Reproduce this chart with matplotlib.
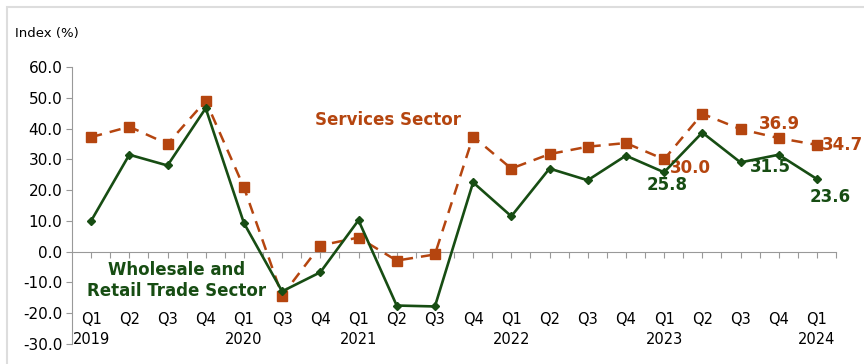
import matplotlib
matplotlib.use("Agg")
import matplotlib.pyplot as plt
from matplotlib.patches import Rectangle
import matplotlib.transforms as mtransforms

plt.rcParams['font.family'] = ['DejaVu Sans']

quarters = ["Q1", "Q2", "Q3", "Q4", "Q1", "Q3", "Q4", "Q1", "Q2", "Q3",
            "Q4", "Q1", "Q2", "Q3", "Q4", "Q1", "Q2", "Q3", "Q4", "Q1"]
years = {0: "2019", 4: "2020", 7: "2021", 11: "2022", 15: "2023", 19: "2024"}

wholesale = [10.0, 31.5, 28.0, 46.6, 9.3, -12.9, -6.7, 10.2, -17.5, -17.8,
             22.5, 11.5, 27.0, 23.2, 31.2, 25.8, 38.7, 29.0, 31.5, 23.6]
services = [37.2, 40.6, 35.0, 49.0, 20.9, -14.3, 2.0, 4.6, -2.9, -0.9,
            37.4, 27.0, 31.7, 34.1, 35.3, 30.0, 44.8, 39.8, 36.9, 34.7]

ORANGE = "#B5450F"
GREEN = "#174D13"

fig = plt.figure(figsize=(8.64, 3.64), dpi=100)
fig.patches.append(Rectangle((7 / 864, -0.1), 1.2, 1 - 7 / 364 + 0.1,
                             transform=fig.transFigure, fill=False,
                             edgecolor="#DDDDDD", linewidth=1.5))
ax = fig.add_axes([72 / 864, 1 - 344 / 364, (836 - 72) / 864, (344 - 67) / 364])

x = list(range(len(quarters)))
ax.plot(x, services, color=ORANGE, linestyle=(0, (4.5, 3.2)), linewidth=1.8,
        marker="s", markersize=7, markerfacecolor=ORANGE, markeredgecolor=ORANGE, zorder=3)
ax.plot(x, wholesale, color=GREEN, linewidth=1.9, marker="D", markersize=4.5,
        markerfacecolor=GREEN, markeredgecolor=GREEN, zorder=4)

ax.set_xlim(-0.5, len(quarters) - 0.5)
ax.set_ylim(-30, 60)
ax.set_yticks(range(-30, 61, 10))
ax.set_yticklabels([f"{v:.1f}" for v in range(-30, 61, 10)], fontsize=11)
ax.tick_params(axis="y", length=4, color="#999999", width=0.8, pad=3)

for s in ["top", "right"]:
    ax.spines[s].set_visible(False)
ax.spines["left"].set_color("#999999")
ax.spines["bottom"].set_position(("data", 0))
ax.spines["bottom"].set_color("#999999")
ax.set_xticks([i * 0.5 - 0.5 for i in range(2 * len(quarters) + 1)][1:])
ax.set_xticklabels([])
ax.tick_params(axis="x", length=4, color="#999999", width=0.8, direction="out")

trans = mtransforms.blended_transform_factory(ax.transData, ax.transAxes)
for i, q in enumerate(quarters):
    ax.text(i, 0.09, q, transform=trans, ha="center", va="center", fontsize=10.5)
for i, yr in years.items():
    ax.text(i, 0.015, yr, transform=trans, ha="center", va="center", fontsize=10.5)

fig.text(15 / 864, 1 - 34 / 364, "Index (%)", fontsize=9.5, va="center", ha="left")

ax.text(5.86, 42.9, "Services Sector", color=ORANGE, fontsize=12,
        fontweight="bold", ha="left", va="center")
ax.text(2.23, -9.3, "Wholesale and\nRetail Trade Sector", color=GREEN, fontsize=12,
        fontweight="bold", ha="center", va="center", linespacing=1.25)

def ann(i, vals, color, dx, dy, ha):
    ax.annotate(f"{vals[i]:.1f}", xy=(i, vals[i]), xytext=(dx, dy),
                textcoords="offset points", color=color, fontsize=12,
                fontweight="bold", ha=ha, va="center")

ann(15, wholesale, GREEN, 2, -9, "center")
ann(15, services, ORANGE, 4.3, -6.5, "left")
ann(18, services, ORANGE, 0.5, 10, "center")
ann(18, wholesale, GREEN, -5.8, -8.6, "center")
ann(19, services, ORANGE, 3.6, 0, "left")
ann(19, wholesale, GREEN, 9.7, -12.7, "center")

fig.savefig("out.png", dpi=100)
